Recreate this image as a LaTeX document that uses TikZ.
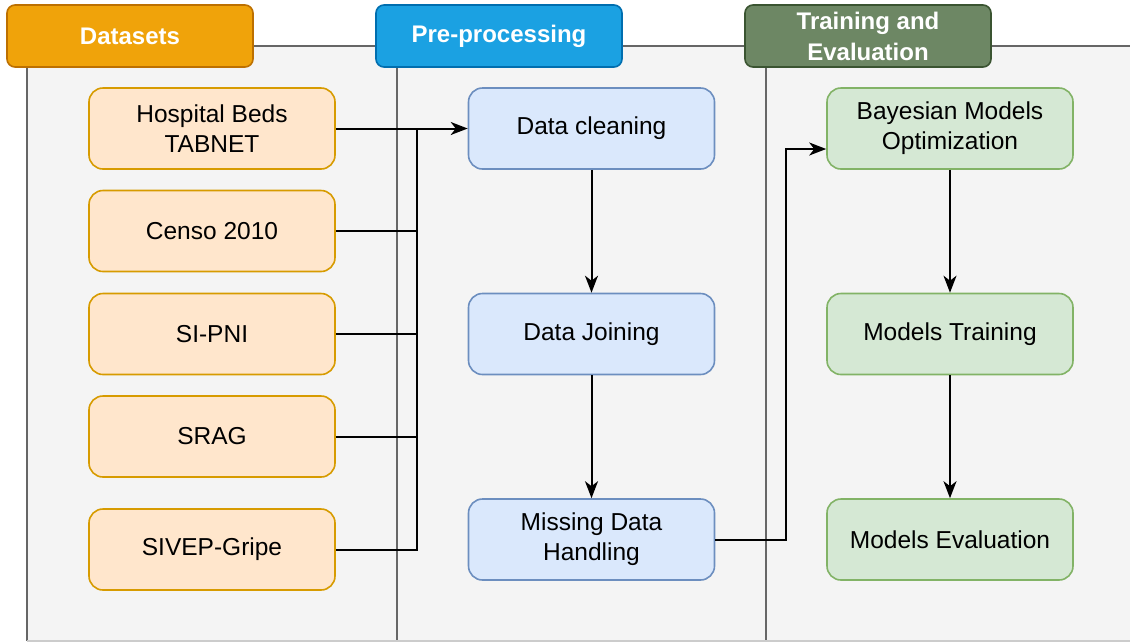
\documentclass[tikz,border=0pt]{standalone}
\usepackage{fontspec}
\setmainfont{Liberation Sans}
\usetikzlibrary{arrows.meta}

\definecolor{laneFill}{HTML}{F4F4F4}
\definecolor{laneLine}{HTML}{666666}
\definecolor{dataFill}{HTML}{FFE6CC}
\definecolor{dataLine}{HTML}{D79B00}
\definecolor{prepFill}{HTML}{DAE8FC}
\definecolor{prepLine}{HTML}{6C8EBF}
\definecolor{trainFill}{HTML}{D5E8D4}
\definecolor{trainLine}{HTML}{82B366}

\tikzset{
  lanehead/.style={draw, line width=1.6pt, rounded corners=8pt, minimum width=246pt, minimum height=62pt,
    text=white, align=center, font=\fontsize{24}{31}\selectfont\bfseries},
  procbox/.style={draw, line width=1.6pt, rounded corners=14pt, minimum width=246pt, minimum height=81pt,
    align=center, font=\fontsize{24.5}{30}\selectfont},
  dataset/.style={procbox, fill=dataFill, draw=dataLine},
  prepstep/.style={procbox, fill=prepFill, draw=prepLine},
  trainstep/.style={procbox, fill=trainFill, draw=trainLine},
  link/.style={line width=2pt, black},
  arrowlink/.style={link, -{Stealth[length=17pt,width=13pt,inset=5pt]}}
}

\begin{document}
\begin{tikzpicture}[x=1pt,y=-1pt]
			%%%%% START %%%%%
			\useasboundingbox (0,0) rectangle (1130,641);
			
			% swimlanes
			\fill[laneFill] (27,46) rectangle (1130,641);
			\draw[line width=1.8pt, color=laneLine] (27,46) -- (1130,46);
			\draw[line width=1.8pt, color=laneLine] (27,46) -- (27,641);
			\draw[line width=1.8pt, color=laneLine] (397,46) -- (397,641);
			\draw[line width=1.8pt, color=laneLine] (766,46) -- (766,641);
			\draw[line width=1.5pt, color=black!20] (27,641) -- (1130,641);
			
			\node[lanehead, fill={rgb,255:red,240;green,163;blue,10}, draw={rgb,255:red,189;green,112;blue,0}] (hdata) at (130,36) {Datasets};
			\node[lanehead, fill={rgb,255:red,27;green,161;blue,226}, draw={rgb,255:red,0;green,110;blue,175}] (hprep) at (499,36) {Pre-processing};
			\node[lanehead, fill={rgb,255:red,109;green,135;blue,100}, draw={rgb,255:red,58;green,84;blue,49}] (htrain) at (868,36) {Training and\\Evaluation};
			
			% datasets
			\node[dataset] (hosp) at (212,128.5) {Hospital Beds\\TABNET};
			\node[dataset] (censo) at (212,231) {Censo 2010};
			\node[dataset] (sipni) at (212,334) {SI-PNI};
			\node[dataset] (srag) at (212,436.5) {SRAG};
			\node[dataset] (sivep) at (212,549.5) {SIVEP-Gripe};
			
			% pre-processing
			\node[prepstep] (clean) at (591.5,128.5) {Data cleaning};
			\node[prepstep] (join) at (591.5,334) {Data Joining};
			\node[prepstep] (miss) at (591.5,539.5) {Missing Data\\Handling};
			
			% training and evaluation
			\node[trainstep] (bayes) at (950,128.5) {Bayesian Models\\Optimization};
			\node[trainstep] (train) at (950,334) {Models Training};
			\node[trainstep] (evalm) at (950,539.5) {Models Evaluation};
			
			\coordinate (bus) at (417,128.5);
			\draw[arrowlink] (hosp.east) -- (clean.west);
			\draw[link] (censo.east) -| (bus);
			\draw[link] (sipni.east) -| (bus);
			\draw[link] (srag.east) -| (bus);
			\draw[link] (sivep.east) -| (bus);
			
			\draw[arrowlink] (clean) -- (join);
			\draw[arrowlink] (join) -- (miss);
			\draw[arrowlink] (miss.east) -- ++(71,0) |- ([yshift=-20.5pt]bayes.west);
			\draw[arrowlink] (bayes) -- (train);
			\draw[arrowlink] (train) -- (evalm);
			
			%%%%% END %%%%%
		\end{tikzpicture}
\end{document}
